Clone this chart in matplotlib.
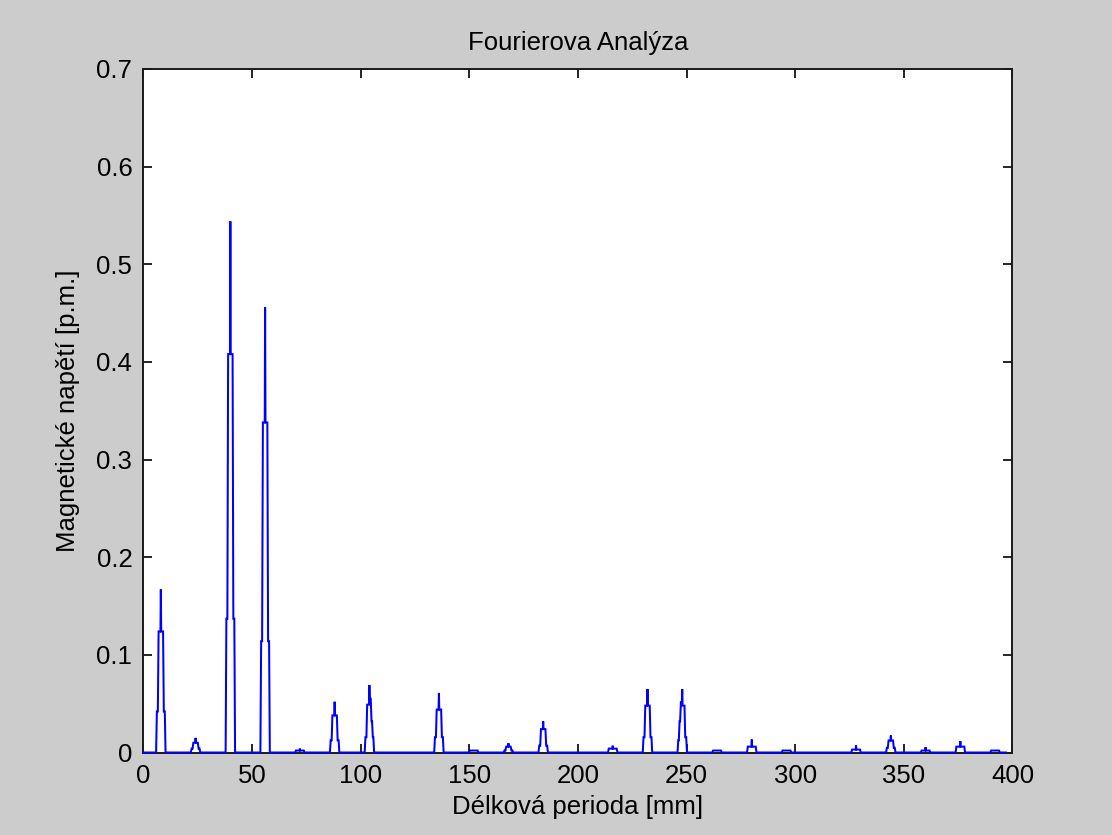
import numpy as np
import matplotlib
matplotlib.use("Agg")
import matplotlib.pyplot as plt

# Harmonic peaks of the spectrum: period [mm], peak value and the step
# levels on each flank (left: outer -> inner, right: inner -> outer)
peak_center = [8, 24, 40, 56, 72, 88, 104, 136, 152, 168, 184, 216,
               232, 248, 264, 280, 296, 328, 344, 360, 376, 392]
peak_top = [0.167, 0.015, 0.544, 0.456, 0.004, 0.052, 0.069, 0.061,
            0.002, 0.0095, 0.032, 0.007, 0.065, 0.065, 0.002, 0.0133,
            0.002, 0.0072, 0.0174, 0.0055, 0.0116, 0.002]
peak_left = [[0.042, 0.124], [0.004, 0.010], [0.137, 0.408], [0.114, 0.338],
             [0.002], [0.0125, 0.038], [0.0157, 0.049], [0.0157, 0.044],
             [0.002], [0.002, 0.006], [0.007, 0.024], [0.004],
             [0.0157, 0.048], [0.0125, 0.032, 0.0515], [0.002], [0.006],
             [0.002], [0.003], [0.0048, 0.0123], [0.002], [0.006], [0.002]]
peak_right = {104: [0.055, 0.032, 0.0157], 248: [0.048, 0.0157]}

trace_start, trace_end = 0, 397

x_ticks = [0, 50, 100, 150, 200, 250, 300, 350, 400]
y_ticks = [0, 0.1, 0.2, 0.3, 0.4, 0.5, 0.6, 0.7]
y_tick_labels = ["0", "0.1", "0.2", "0.3", "0.4", "0.5", "0.6", "0.7"]

RISE = 0.35  # horizontal run of each riser, mm


def flank_offsets(n):
    step = 0.8 if n <= 2 else 0.6
    return [2.0 - i * step for i in range(n)]


# Build the stepped spectrum trace
xs, ys = [trace_start], [0.0]
for c, top, left in zip(peak_center, peak_top, peak_left):
    right = peak_right.get(c, list(reversed(left)))
    offl = flank_offsets(len(left))
    for off, lev in zip(offl, left):
        xs += [c - off - RISE / 2, c - off + RISE / 2]
        ys += [ys[-1], lev]
    xs += [c - RISE / 2, c]
    ys += [left[-1], top]
    offr = list(reversed(flank_offsets(len(right))))
    xs.append(c + RISE / 2)
    ys.append(right[0])
    for i, (off, lev) in enumerate(zip(offr, right)):
        nxt = right[i + 1] if i + 1 < len(right) else 0.0
        xs += [c + off - RISE / 2, c + off + RISE / 2]
        ys += [lev, nxt]
xs.append(trace_end)
ys.append(0.0)

plt.rcParams['font.family'] = ['Liberation Sans', 'DejaVu Sans']

fig = plt.figure(figsize=(11.12, 8.35), dpi=100, facecolor="#cccccc")
ax = fig.add_axes([0.129, 0.0988, 0.7815, 0.8186])
ax.set_facecolor("white")

ax.plot(xs, ys, color="#0000ff", lw=1.45, solid_joinstyle="miter",
        zorder=3, clip_on=False)

ax.set_xlim(0, 400)
ax.set_ylim(0, 0.7)
ax.set_xticks(x_ticks)
ax.set_xticklabels([str(t) for t in x_ticks])
ax.set_yticks(y_ticks)
ax.set_yticklabels(y_tick_labels)
ax.tick_params(direction="in", length=6.5, width=1.2, top=True, right=True,
               labelsize=18.5, pad=8, colors="black")
for s in ax.spines.values():
    s.set_linewidth(1.4)
    s.set_color("#1a1a1a")

ax.set_title("Fourierova Analýza", fontsize=18.5, pad=14)
ax.set_xlabel("Délková perioda [mm]", fontsize=18.5, labelpad=5)
ax.set_ylabel("Magnetické napětí [p.m.]", fontsize=18.5, labelpad=12)

fig.savefig("out.png", dpi=100, facecolor=fig.get_facecolor())
